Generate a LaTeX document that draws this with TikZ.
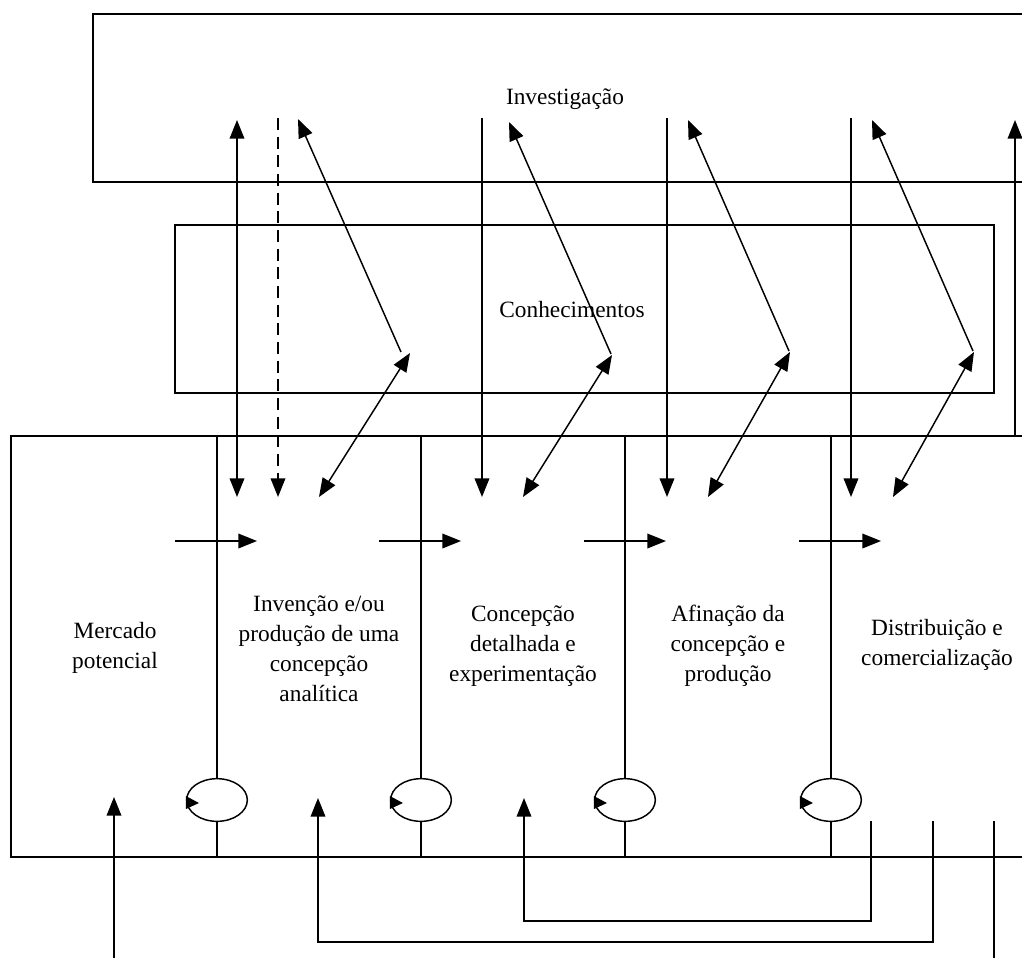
\documentclass[tikz,border=0pt]{standalone}
\usepackage{fontspec}
\setmainfont{Liberation Serif}
\usetikzlibrary{arrows.meta,shapes.geometric}
\tikzset{
  ln/.style={line width=1.1pt},
  tip/.style={ln,-{Triangle[length=14pt,width=11pt]}},
  dtip/.style={ln,{Triangle[length=14pt,width=11pt]}-{Triangle[length=14pt,width=11pt]}},
  lbl/.style={font=\fontsize{17.5}{22.5}\selectfont, align=center, inner sep=0pt},
  loopnode/.style={ellipse, draw, line width=1.1pt, minimum width=45.5pt, minimum height=32pt, inner sep=0pt},
}
\begin{document}
\begin{tikzpicture}[x=0.75pt,y=-0.75pt]
\useasboundingbox (0,0) rectangle (1022,958);
\clip (0,0) rectangle (1022,958);

% boxes
\draw[ln] (93,14) rectangle (1040,182);
\draw[ln] (175,225) rectangle (994,393);
\draw[ln] (11,436) rectangle (1040,857);
\node[lbl] (inv) at (565,99) {Investigação};
\node[lbl] (con) at (572,310) {Conhecimentos};

% loops and dividers
\foreach \i/\x in {1/217,2/421,3/625,4/831}{
  \node[loopnode] (e\i) at (\x,800) {};
  \coordinate (dt\i) at (\x,436);
  \coordinate (db\i) at (\x,857);
  \draw[ln] (dt\i) -- (e\i.north);
  \draw[ln] (e\i.south) -- (db\i);
  \fill (e\i.west) ++(0,-4) -- ++(13,7) -- ++(-13,6) -- cycle;
}

% stage labels
\node[lbl] (s0) at (115,648) {Mercado\\potencial};
\node[lbl] (s1) at (319,649) {Invenção e/ou\\produção de uma\\concepção\\analítica};
\node[lbl] (s2) at (523,646) {Concepção\\detalhada e\\experimentação};
\node[lbl] (s3) at (728,646) {Afinação da\\concepção e\\produção};
\node[lbl] (s4) at (937,645) {Distribuição e\\comercialização};

% column 1
\coordinate (a1t) at (237,120); \coordinate (a1b) at (237,497);
\draw[dtip] (a1t) -- (a1b);
\coordinate (b1t) at (278,118); \coordinate (b1b) at (278,497);
\draw[tip,dashed,dash pattern=on 9pt off 5pt] (b1t) -- (b1b);
% diagonals
\foreach \i/\lx/\ly/\ux/\uy/\dx/\dy/\bx in {1/401/352/298/119/410/353/319,2/611/354/509/122/612/355/523,3/789/351/688/120/790/352/708,4/973/351/872/120/974/352/893}{
  \coordinate (p\i) at (\lx,\ly);
  \coordinate (q\i) at (\ux,\uy);
  \coordinate (r\i) at (\dx,\dy);
  \coordinate (s\i) at (\bx,497);
  \draw[tip] (p\i) -- (q\i);
  \draw[dtip] (r\i) -- (s\i);
}
% vertical down arrows
\foreach \i/\x in {2/482,3/667,4/851}{
  \coordinate (v\i t) at (\x,118);
  \coordinate (v\i b) at (\x,497);
  \draw[tip] (v\i t) -- (v\i b);
}
% right up arrow
\coordinate (rt) at (1015,120); \coordinate (rb) at (1015,436);
\draw[tip] (rb) -- (rt);

% horizontal arrows
\foreach \i/\x in {1/175,2/379,3/584,4/799}{
  \coordinate (h\i s) at (\x,541);
  \coordinate (h\i e) at (\x+82,541);
  \draw[tip] (h\i s) -- (h\i e);
}

% bottom feedback
\coordinate (m0) at (114,958); \coordinate (m1) at (114,797);
\draw[tip] (m0) -- (m1);
\coordinate (fa0) at (871,821); \coordinate (fa1) at (871,921);
\coordinate (fa2) at (524,921); \coordinate (fa3) at (524,798);
\draw[tip] (fa0) -- (fa1) -- (fa2) -- (fa3);
\coordinate (fb0) at (933,821); \coordinate (fb1) at (933,942);
\coordinate (fb2) at (318,942); \coordinate (fb3) at (318,798);
\draw[tip] (fb0) -- (fb1) -- (fb2) -- (fb3);
\coordinate (fc0) at (994,821); \coordinate (fc1) at (994,958);
\draw[ln] (fc0) -- (fc1);
\end{tikzpicture}
\end{document}
